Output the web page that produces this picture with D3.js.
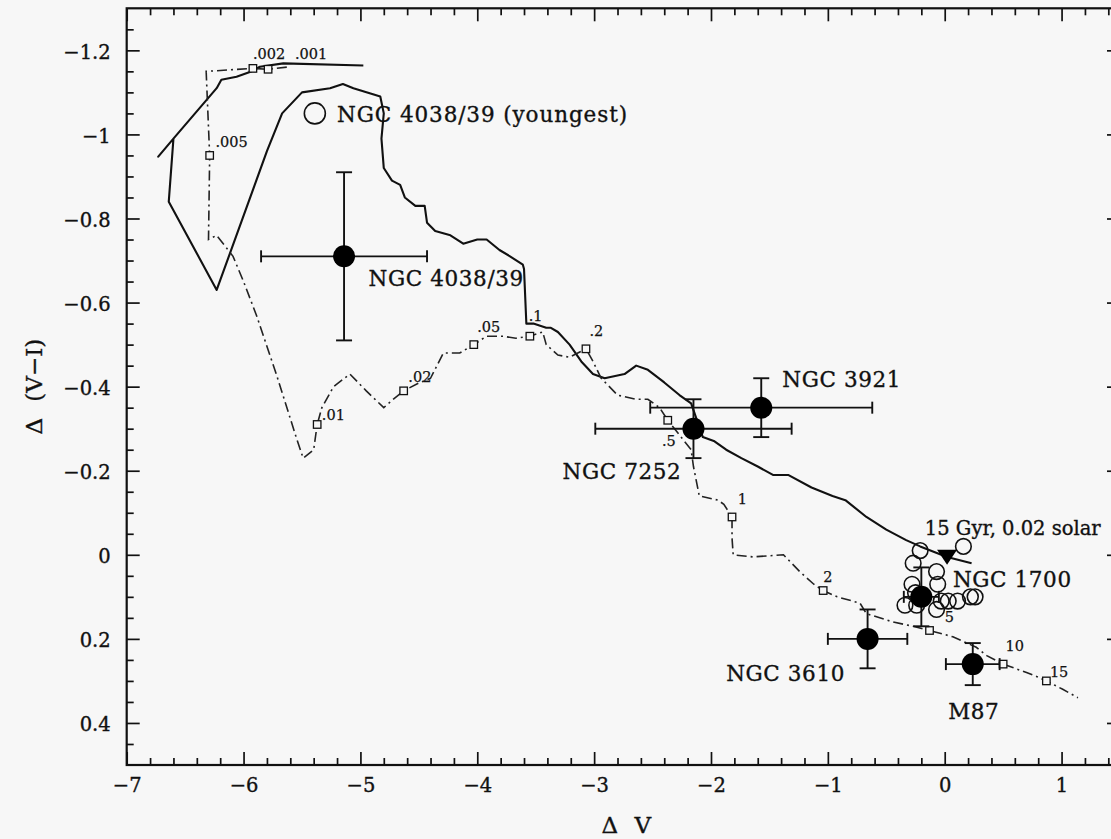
<!DOCTYPE html>
<html>
<head>
<meta charset="utf-8">
<script src="https://cdn.jsdelivr.net/npm/d3@7"></script>
<style>
  html, body { margin: 0; padding: 0; background: #f7f7f7; }
  svg { display: block; }
  text { font-family: "DejaVu Serif", serif; fill: #111; stroke: #111; stroke-width: 0.35px; }
</style>
</head>
<body>
<svg id="chart" width="1111" height="839"></svg>
<script>
// ---- Model track, 15 Gyr burst (solid) : ΔV and Δ(V−I) ----
const solidDV = [-4.975, -5.66, -5.86, -5.94, -6.06, -6.19, -6.23, -6.60, -6.73, -6.60,
  -6.64, -6.23, -5.80, -5.67, -5.50, -5.26, -5.15, -5.06, -4.83, -4.80,
  -4.82, -4.80, -4.73, -4.66, -4.62, -4.53, -4.45, -4.43, -4.36, -4.23,
  -4.12, -4.00, -3.92, -3.81, -3.72, -3.61, -3.60, -3.58, -3.52, -3.41,
  -3.37, -3.31, -3.21, -3.11, -3.01, -2.91, -2.74, -2.64, -2.54, -2.40,
  -2.27, -2.17, -2.07, -1.97, -1.87, -1.74, -1.60, -1.47, -1.34, -1.14,
  -0.96, -0.85, -0.67, -0.50, -0.33, -0.21, 0.02, 0.23];
const solidDVI = [-1.164, -1.169, -1.161, -1.149, -1.137, -1.13, -1.11, -0.99, -0.947, -0.99,
  -0.84, -0.63, -0.96, -1.05, -1.10, -1.11, -1.12, -1.11, -1.09, -1.05,
  -0.99, -0.92, -0.89, -0.88, -0.85, -0.83, -0.83, -0.79, -0.77, -0.76,
  -0.74, -0.75, -0.75, -0.725, -0.71, -0.69, -0.68, -0.55, -0.55, -0.54,
  -0.54, -0.53, -0.50, -0.46, -0.43, -0.42, -0.43, -0.45, -0.44, -0.41,
  -0.38, -0.36, -0.28, -0.27, -0.25, -0.23, -0.21, -0.19, -0.19, -0.16,
  -0.14, -0.13, -0.09, -0.06, -0.035, -0.02, 0.005, 0.02];

// ---- Model track with age marks (dash-dot) ----
const dashDV = [-5.63, -5.79, -5.92, -6.32, -6.29, -6.30, -6.23, -6.09, -6.00, -5.89,
  -5.72, -5.55, -5.49, -5.40, -5.37, -5.33, -5.23, -5.09, -4.95, -4.80,
  -4.72, -4.63, -4.49, -4.40, -4.29, -4.15, -4.03, -3.92, -3.78, -3.67,
  -3.55, -3.44, -3.41, -3.31, -3.21, -3.07, -3.01, -2.94, -2.80, -2.64,
  -2.54, -2.44, -2.37, -2.27, -2.17, -2.15, -2.10, -1.94, -1.89, -1.82,
  -1.82, -1.81, -1.64, -1.38, -1.24, -1.12, -1.04, -0.92, -0.725, -0.67,
  -0.44, -0.27, -0.13, 0.07, 0.27, 0.36, 0.50, 0.70, 0.79, 0.87,
  1.01, 1.14];
const dashDVI = [-1.16, -1.155, -1.157, -1.15, -0.95, -0.75, -0.76, -0.71, -0.65, -0.57,
  -0.43, -0.28, -0.23, -0.25, -0.31, -0.35, -0.40, -0.43, -0.39, -0.35,
  -0.37, -0.39, -0.41, -0.42, -0.48, -0.48, -0.50, -0.52, -0.52, -0.515,
  -0.52, -0.53, -0.50, -0.475, -0.47, -0.49, -0.46, -0.42, -0.38, -0.37,
  -0.37, -0.35, -0.32, -0.285, -0.25, -0.21, -0.14, -0.13, -0.12, -0.09,
  -0.04, 0.00, 0.005, 0.00, 0.04, 0.07, 0.085, 0.10, 0.115, 0.14,
  0.16, 0.17, 0.18, 0.195, 0.22, 0.24, 0.26, 0.28, 0.29, 0.30,
  0.32, 0.34];

// ---- Age marks on the dash-dot track (Gyr) ----
const ageText = [".001", ".002", ".005", ".01", ".02", ".05", ".1", ".2", ".5", "1", "2", "5", "10", "15"];
const ageDV   = [-5.79, -5.92, -6.29, -5.37, -4.63, -4.03, -3.55, -3.07, -2.37, -1.82, -1.04, -0.13, 0.50, 0.87];
const ageDVI  = [-1.155, -1.157, -0.95, -0.31, -0.39, -0.50, -0.52, -0.49, -0.32, -0.09, 0.085, 0.18, 0.26, 0.30];
const ageLabelDV  = [-5.56, -5.92, -6.24, -5.33, -4.59, -4.00, -3.56, -3.04, -2.42, -1.77, -1.04, 0.00, 0.52, 0.90];
const ageLabelDVI = [-1.18, -1.18, -0.97, -0.32, -0.41, -0.53, -0.555, -0.52, -0.26, -0.12, 0.064, 0.16, 0.23, 0.29];

// ---- Galaxies with error bars ----
const galaxyNames = ["NGC 4038/39", "NGC 3921", "NGC 7252", "NGC 3610", "M87", "NGC 1700"];
const galaxyDV    = [-5.14, -1.57, -2.15, -0.66, 0.24, -0.20];
const galaxyDVI   = [-0.71, -0.35, -0.30, 0.20, 0.26, 0.10];
const galaxyErrDV  = [0.71, 0.95, 0.84, 0.34, 0.23, 0.15];
const galaxyErrDVI = [0.20, 0.07, 0.07, 0.07, 0.05, 0.07];
const galaxyLabelDV  = [-4.93, -1.39, -3.27, -1.87, 0.03, 0.07];
const galaxyLabelDVI = [-0.64, -0.40, -0.18, 0.30, 0.39, 0.077];

// ---- Individual clusters in NGC 1700 (open circles) ----
const clusterDV  = [-0.21, 0.16, -0.27, -0.07, -0.28, -0.06, -0.34, -0.07, -0.03, 0.03, 0.11, 0.22, 0.26, -0.24, -0.25];
const clusterDVI = [-0.01, -0.02, 0.02, 0.04, 0.07, 0.07, 0.12, 0.13, 0.11, 0.11, 0.11, 0.10, 0.10, 0.12, 0.09];

// ---- Youngest clusters in NGC 4038/39 ----
const youngestDV = [-5.39];
const youngestDVI = [-1.05];
const youngestLabel = "NGC 4038/39 (youngest)";
const youngestLabelDV = -5.20, youngestLabelDVI = -1.03;

// ---- 15 Gyr, 0.02 solar model point ----
const oldModelDV = [0.02];
const oldModelDVI = [0.0];
const oldModelLabel = "15 Gyr, 0.02 solar";
const oldModelLabelDV = -0.17, oldModelLabelDVI = -0.046;

// ---- Axes ----
const xTickValues = [-7, -6, -5, -4, -3, -2, -1, 0, 1];
const xTickLabels = ["\u22127", "\u22126", "\u22125", "\u22124", "\u22123", "\u22122", "\u22121", "0", "1"];
const yTickValues = [-1.2, -1.0, -0.8, -0.6, -0.4, -0.2, 0, 0.2, 0.4];
const yTickLabels = ["\u22121.2", "\u22121", "\u22120.8", "\u22120.6", "\u22120.4", "\u22120.2", "0", "0.2", "0.4"];
const xTitle = "\u0394 V";
const yTitle = "\u0394 (V\u2212I)";

const svg = d3.select("#chart");
const x = d3.scaleLinear().domain([-7, 1.5]).range([126.7, 1120]);
const y = d3.scaleLinear().domain([-1.3, 0.5]).range([8.3, 765]);
const ink = "#111";

svg.append("rect").attr("width", 1111).attr("height", 839).attr("fill", "#f7f7f7");

// minor tick positions
const xMinor = d3.range(0, 43).map(i => +(-7 + i * 0.2).toFixed(2))
  .filter(v => Math.abs(v - Math.round(v)) > 1e-6);
const yMinor = d3.range(1, 36).map(i => +(-1.3 + i * 0.05).toFixed(2))
  .filter(v => Math.abs(v * 5 - Math.round(v * 5)) > 1e-6);

function styleAxis(g) {
  g.select(".domain").remove();
  g.selectAll(".tick line").attr("stroke", ink).attr("stroke-width", 1.7);
  g.selectAll(".tick text").style("font-size", "19.5px").attr("fill", ink);
}

const x0 = x.range()[0], x1 = x.range()[1], y0 = y.range()[0], y1 = y.range()[1];

// bottom
svg.append("g").attr("transform", `translate(0,${y1})`)
  .call(d3.axisBottom(x).tickValues(xTickValues).tickSize(-13).tickPadding(13)
    .tickFormat((d, i) => xTickLabels[i])).call(styleAxis);
svg.append("g").attr("transform", `translate(0,${y1})`)
  .call(d3.axisBottom(x).tickValues(xMinor).tickSize(-7).tickFormat("")).call(styleAxis);
// top
svg.append("g").attr("transform", `translate(0,${y0})`)
  .call(d3.axisTop(x).tickValues(xTickValues).tickSize(-13).tickFormat("")).call(styleAxis);
svg.append("g").attr("transform", `translate(0,${y0})`)
  .call(d3.axisTop(x).tickValues(xMinor).tickSize(-7).tickFormat("")).call(styleAxis);
// left
const leftAx = svg.append("g").attr("transform", `translate(${x0},0)`)
  .call(d3.axisLeft(y).tickValues(yTickValues).tickSize(-13).tickPadding(16)
    .tickFormat((d, i) => yTickLabels[i])).call(styleAxis);
leftAx.selectAll(".tick text").attr("dy", "0.4em");
svg.append("g").attr("transform", `translate(${x0},0)`)
  .call(d3.axisLeft(y).tickValues(yMinor).tickSize(-7).tickFormat("")).call(styleAxis);
// right
svg.append("g").attr("transform", `translate(${x1},0)`)
  .call(d3.axisRight(y).tickValues(yTickValues).tickSize(-13).tickFormat("")).call(styleAxis);
svg.append("g").attr("transform", `translate(${x1},0)`)
  .call(d3.axisRight(y).tickValues(yMinor).tickSize(-7).tickFormat("")).call(styleAxis);

// frame
svg.append("rect").attr("x", x0).attr("y", y0).attr("width", x1 - x0).attr("height", y1 - y0)
  .attr("fill", "none").attr("stroke", ink).attr("stroke-width", 2.2);

// axis titles
svg.append("text").attr("x", (x0 + x1) / 2 + 3).attr("y", y1 + 68)
  .attr("text-anchor", "middle").style("font-size", "23px").style("word-spacing", "9px")
  .text(xTitle);
svg.append("text").attr("transform", `translate(${x0 - 85},${(y0 + y1) / 2}) rotate(-90)`)
  .attr("text-anchor", "middle").style("font-size", "23px").style("word-spacing", "9px")
  .text(yTitle);

const plot = svg.append("g");
const line = d3.line().x(d => x(d[0])).y(d => y(d[1]));

// solid track
plot.append("path").datum(d3.zip(solidDV, solidDVI))
  .attr("d", line).attr("fill", "none").attr("stroke", ink)
  .attr("stroke-width", 2.1).attr("stroke-linejoin", "round");

// dash-dot track
plot.append("path").datum(d3.zip(dashDV, dashDVI))
  .attr("d", line).attr("fill", "none").attr("stroke", "#222")
  .attr("stroke-width", 1.6).attr("stroke-dasharray", "10,4,2,4");

// age squares
const sq = 7.5;
plot.selectAll("rect.age").data(d3.zip(ageDV, ageDVI)).join("rect")
  .attr("class", "age")
  .attr("x", d => x(d[0]) - sq / 2).attr("y", d => y(d[1]) - sq / 2)
  .attr("width", sq).attr("height", sq)
  .attr("fill", "#f7f7f7").attr("stroke", ink).attr("stroke-width", 1.3);
plot.selectAll("text.age").data(d3.zip(ageLabelDV, ageLabelDVI, ageText)).join("text")
  .attr("class", "age")
  .attr("x", d => x(d[0])).attr("y", d => y(d[1]))
  .style("font-size", "14.5px").style("stroke-width", "0.25px").text(d => d[2]);

// cluster open circles
plot.selectAll("circle.cl").data(d3.zip(clusterDV, clusterDVI)).join("circle")
  .attr("class", "cl").attr("cx", d => x(d[0])).attr("cy", d => y(d[1])).attr("r", 7.8)
  .attr("fill", "none").attr("stroke", ink).attr("stroke-width", 1.6);

// youngest clusters
plot.selectAll("circle.young").data(d3.zip(youngestDV, youngestDVI)).join("circle")
  .attr("class", "young").attr("cx", d => x(d[0])).attr("cy", d => y(d[1])).attr("r", 10.5)
  .attr("fill", "none").attr("stroke", ink).attr("stroke-width", 1.6);
plot.append("text").attr("x", x(youngestLabelDV)).attr("y", y(youngestLabelDVI))
  .style("font-size", "21.5px").style("letter-spacing", "0.9px").text(youngestLabel);

// galaxies: error bars, points, names
const gal = d3.range(galaxyNames.length).map(i => ({
  name: galaxyNames[i], dv: galaxyDV[i], dvi: galaxyDVI[i],
  ev: galaxyErrDV[i], evi: galaxyErrDVI[i], lx: galaxyLabelDV[i], ly: galaxyLabelDVI[i]
}));
const eb = plot.selectAll("g.gal").data(gal).join("g").attr("class", "gal")
  .attr("stroke", ink).attr("stroke-width", 1.9);
eb.append("line").attr("x1", d => x(d.dv - d.ev)).attr("x2", d => x(d.dv + d.ev))
  .attr("y1", d => y(d.dvi)).attr("y2", d => y(d.dvi));
eb.append("line").attr("x1", d => x(d.dv)).attr("x2", d => x(d.dv))
  .attr("y1", d => y(d.dvi - d.evi)).attr("y2", d => y(d.dvi + d.evi));
[-1, 1].forEach(s => {
  eb.append("line").attr("x1", d => x(d.dv + s * d.ev)).attr("x2", d => x(d.dv + s * d.ev))
    .attr("y1", d => y(d.dvi) - 6).attr("y2", d => y(d.dvi) + 6);
  eb.append("line").attr("x1", d => x(d.dv) - 8).attr("x2", d => x(d.dv) + 8)
    .attr("y1", d => y(d.dvi + s * d.evi)).attr("y2", d => y(d.dvi + s * d.evi));
});
eb.append("circle").attr("cx", d => x(d.dv)).attr("cy", d => y(d.dvi)).attr("r", 11)
  .attr("fill", "#000").attr("stroke", "none");
plot.selectAll("text.gal").data(gal).join("text").attr("class", "gal")
  .attr("x", d => x(d.lx)).attr("y", d => y(d.ly))
  .style("font-size", "21.5px").style("letter-spacing", "0.6px").text(d => d.name);

// old metal-poor model point (filled down triangle)
plot.selectAll("path.old").data(d3.zip(oldModelDV, oldModelDVI)).join("path")
  .attr("class", "old")
  .attr("d", d => `M${x(d[0]) - 10},${y(d[1]) - 5}L${x(d[0]) + 10},${y(d[1]) - 5}L${x(d[0])},${y(d[1]) + 10}Z`)
  .attr("fill", "#000");
plot.append("text").attr("x", x(oldModelLabelDV)).attr("y", y(oldModelLabelDVI))
  .style("font-size", "19.5px").text(oldModelLabel);
</script>
</body>
</html>
